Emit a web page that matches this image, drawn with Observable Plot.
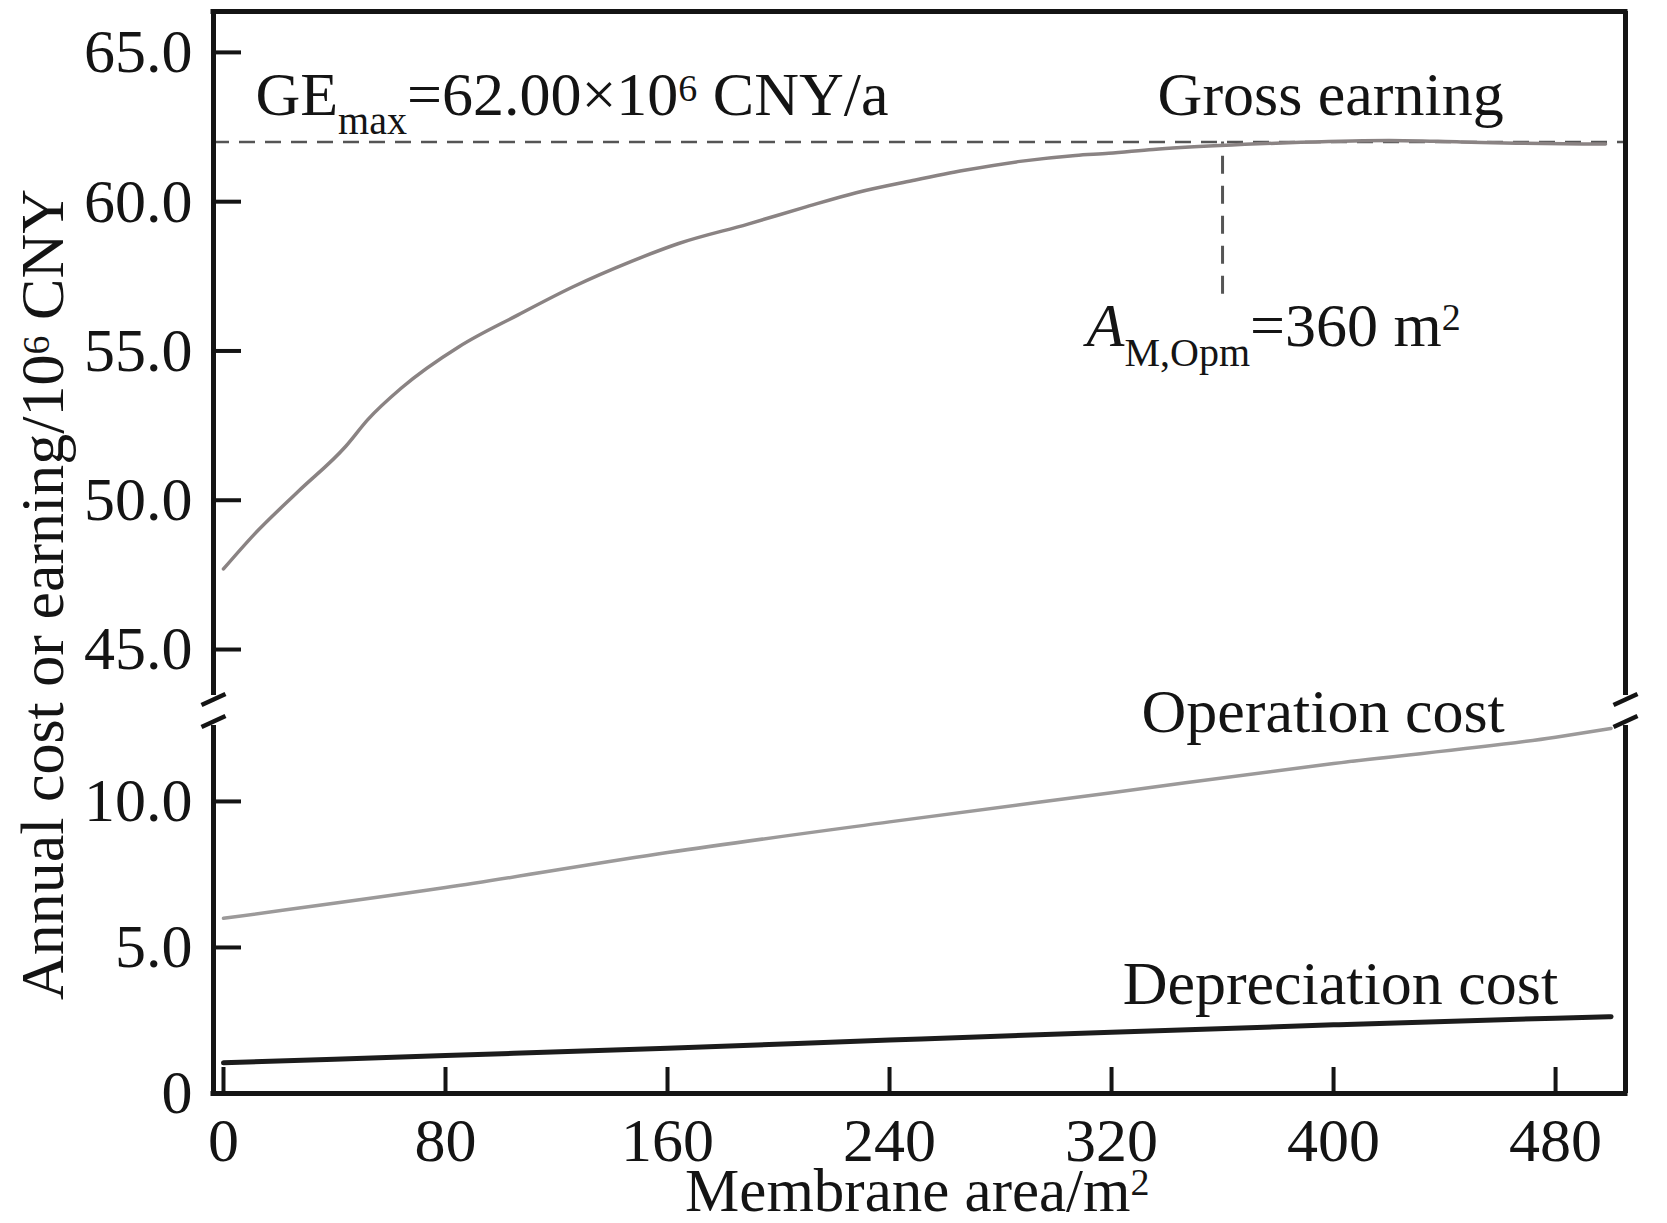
<!DOCTYPE html>
<html><head><meta charset="utf-8">
<script src="https://cdn.jsdelivr.net/npm/d3@7"></script>
<script src="https://cdn.jsdelivr.net/npm/@observablehq/plot@0.6"></script>
<style>body{margin:0;background:#fff} svg{display:block}</style>
</head><body><div id="chart"></div>
<script>
// ---- data ----
const grossArea = [0, 11, 27, 44, 52, 64, 85, 106, 126, 147, 164, 189, 209, 228, 248, 267, 287, 307, 319, 335, 359, 386, 420, 446, 466, 498];
const grossEarning = [47.7, 48.85, 50.3, 51.8, 52.7, 53.75, 55.15, 56.2, 57.15, 58.0, 58.6, 59.25, 59.8, 60.3, 60.7, 61.05, 61.35, 61.55, 61.62, 61.75, 61.88, 61.98, 62.05, 62.0, 61.96, 61.93];
const costArea = [0, 80, 160, 240, 320, 400, 480, 500];
const operationCost = [6.0, 7.05, 8.25, 9.3, 10.3, 11.3, 12.2, 12.5];
const depreciationCost = [1.05, 1.3, 1.55, 1.83, 2.1, 2.35, 2.58, 2.63];
const xTicks = [0, 80, 160, 240, 320, 400, 480];
const yTicks = [0, 5, 10, 45, 50, 55, 60, 65];
const GE_MAX = 62.0;
const A_OPT = 360;
const A_OPT_LOW = 56.9;

// ---- scales (broken y axis as a piecewise linear scale) ----
const xDomain = [-3.6, 505.2], xRange = [213, 1625];
const yDomain = [0, 12.6, 43.46, 66.37], yRange = [1093, 725, 695, 11];
const xs = Plot.scale({x: {type: "linear", domain: xDomain, range: xRange}});
const ys = Plot.scale({y: {type: "linear", domain: yDomain, range: yRange}});

const gross = grossArea.map((x, i) => ({x, y: grossEarning[i]}));
const oper = costArea.map((x, i) => ({x, y: operationCost[i]}));
const depr = costArea.map((x, i) => ({x, y: depreciationCost[i]}));

const frameV = [];
for (const xv of xDomain) {
  frameV.push({x: xv, y1: yDomain[0], y2: yDomain[1]});
  frameV.push({x: xv, y1: yDomain[2], y2: yDomain[3]});
}
// break slashes on both frame sides
const slashes = [];
for (const px of xRange) {
  for (const py of [699, 721]) {
    slashes.push({x1: xs.invert(px - 12), y1: ys.invert(py + 5.5), x2: xs.invert(px + 12), y2: ys.invert(py - 5.5)});
  }
}

const annots = [
  {x: 11.5, y: 62.89, key: "GE"},
  {x: 336.6, y: 62.89, key: "Gross earning"},
  {x: 311, y: 55.15, key: "AM"},
  {x: 330.8, y: 12.39, key: "Operation cost"},
  {x: 324, y: 3.05, key: "Depreciation cost"}
];
const rich = {
  "GE": 'GE<tspan dy="19" font-size="40">max</tspan><tspan dy="-19">=62.00×10</tspan><tspan dy="-14" font-size="38">6</tspan><tspan dy="14"> CNY/a</tspan>',
  "AM": '<tspan font-style="italic">A</tspan><tspan dy="20" font-size="40">M,Opm</tspan><tspan dy="-20">=360 m</tspan><tspan dy="-16" font-size="38">2</tspan>',
  "YLABEL": 'Annual cost or earning/10<tspan dy="-14" font-size="38">6</tspan><tspan dy="14"> CNY</tspan>',
  "XLABEL": 'Membrane area/m<tspan dy="-16" font-size="38">2</tspan>'
};

const FONT = "'Liberation Serif','Times New Roman',serif";
const INK = "#141414";

const chart = Plot.plot({
  width: 1667, height: 1223,
  marginLeft: 213, marginRight: 42, marginTop: 11, marginBottom: 130,
  style: {fontFamily: FONT, fontSize: "62px", color: INK, background: "white", overflow: "visible"},
  x: {type: "linear", domain: xDomain, range: xRange},
  y: {type: "linear", domain: yDomain, range: yRange},
  marks: [
    // dashed guides
    Plot.ruleY([GE_MAX], {x1: xDomain[0], x2: xDomain[1], stroke: "#555", strokeWidth: 2.5, strokeDasharray: "16,10"}),
    Plot.ruleX([A_OPT], {y1: A_OPT_LOW, y2: GE_MAX, stroke: "#555", strokeWidth: 3, strokeDasharray: "18,12"}),
    // series
    Plot.line(gross, {x: "x", y: "y", stroke: "#8a8383", strokeWidth: 3.5, curve: "monotone-x"}),
    Plot.line(oper, {x: "x", y: "y", stroke: "#9c9a9a", strokeWidth: 3.5, curve: "monotone-x"}),
    Plot.line(depr, {x: "x", y: "y", stroke: "#1c1c1c", strokeWidth: 5, curve: "monotone-x"}),
    // frame
    Plot.ruleX(frameV, {x: "x", y1: "y1", y2: "y2", stroke: INK, strokeWidth: 5}),
    Plot.ruleY([yDomain[0], yDomain[3]], {x1: xDomain[0], x2: xDomain[1], stroke: INK, strokeWidth: 5, strokeLinecap: "square"}),
    Plot.link(slashes, {x1: "x1", y1: "y1", x2: "x2", y2: "y2", stroke: INK, strokeWidth: 4.5}),
    // inward ticks
    Plot.ruleY(yTicks, {y: d => d, x1: xDomain[0], x2: xs.invert(xRange[0] + 28), stroke: INK, strokeWidth: 4}),
    Plot.ruleX(xTicks, {x: d => d, y1: 0, y2: ys.invert(yRange[0] - 26), stroke: INK, strokeWidth: 4}),
    // tick labels
    Plot.axisY(yTicks, {tickSize: 0, tickPadding: 21, tickFormat: d => d === 0 ? "0" : d.toFixed(1), fontSize: 62, label: null}),
    Plot.axisX(xTicks, {tickSize: 0, tickPadding: 23, tickFormat: d => String(d), fontSize: 62, label: null}),
    // axis titles
    Plot.text(["YLABEL"], {frameAnchor: "left", y: 46.84, dx: -170, rotate: -90, textAnchor: "middle", lineAnchor: "middle", fontSize: 62, fill: INK}),
    Plot.text(["XLABEL"], {frameAnchor: "bottom", x: 250, dy: 117, textAnchor: "middle", lineAnchor: "bottom", fontSize: 61, fill: INK}),
    // annotations
    Plot.text(annots, {x: "x", y: "y", text: "key", textAnchor: "start", lineAnchor: "bottom", fontSize: 62, fill: INK})
  ]
});

for (const t of chart.querySelectorAll("text")) {
  const r = rich[t.textContent];
  if (r) t.innerHTML = r;
}
document.getElementById("chart").appendChild(chart);
</script>
</body></html>
